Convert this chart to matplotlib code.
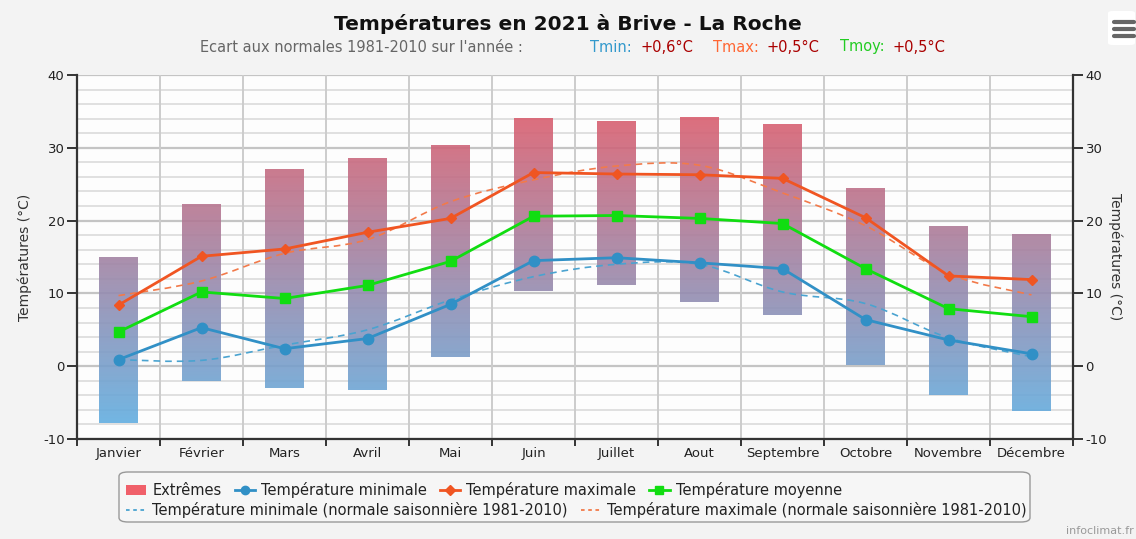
import numpy as np
import matplotlib
matplotlib.use("Agg")
import matplotlib.pyplot as plt
from matplotlib.colors import LinearSegmentedColormap
from matplotlib.patches import Patch, FancyBboxPatch, PathPatch
from matplotlib.lines import Line2D
from matplotlib.path import Path
from matplotlib import font_manager

# ---------------- data ----------------
months = ["Janvier", "Février", "Mars", "Avril", "Mai", "Juin", "Juillet",
          "Aout", "Septembre", "Octobre", "Novembre", "Décembre"]
extreme_max = [14.9, 22.2, 27.0, 28.5, 30.2, 34.0, 33.6, 34.1, 33.2, 24.5, 19.2, 18.0]
extreme_min = [-7.8, -2.1, -3.0, -3.3, 1.2, 10.3, 11.2, 8.8, 7.0, 0.2, -4.0, -6.2]
tmin = [0.9, 5.3, 2.4, 3.8, 8.5, 14.5, 14.9, 14.2, 13.4, 6.4, 3.6, 1.7]
tmax = [8.4, 15.1, 16.1, 18.4, 20.3, 26.6, 26.4, 26.3, 25.8, 20.4, 12.4, 11.9]
tmoy = [4.7, 10.2, 9.3, 11.1, 14.4, 20.6, 20.7, 20.3, 19.6, 13.4, 7.9, 6.8]
norm_min = [0.9, 0.8, 2.9, 5.0, 9.1, 12.3, 14.0, 14.0, 10.2, 8.6, 3.9, 1.3]
norm_max = [9.7, 11.7, 15.5, 17.4, 22.6, 25.6, 27.5, 27.6, 23.8, 19.3, 12.7, 9.8]
yticks = [-10, 0, 10, 20, 30, 40]

# ---------------- fonts ----------------
avail = {f.name for f in font_manager.fontManager.ttflist}
narrow = "Liberation Sans Narrow" if "Liberation Sans Narrow" in avail else "DejaVu Sans"
plt.rcParams['font.family'] = ['DejaVu Sans']
plt.rcParams['axes.unicode_minus'] = False

C_MIN = "#3190c6"
C_MAX = "#f05522"
C_MOY = "#11dd11"
C_NMIN = "#4aa3d0"
C_NMAX = "#f27a4a"

fig = plt.figure(figsize=(11.36, 5.39), dpi=100)
fig.patch.set_facecolor("#f3f3f3")
ax = fig.add_axes([77/1136, 1-439/539, (1073-77)/1136, (439-75)/539])
ax.set_facecolor("#fdfdfd")

x = np.arange(len(months))
ax.set_xlim(-0.5, len(months)-0.5)
ax.set_ylim(-10, 40)

# grid
for v in np.arange(-10, 41, 2):
    major = (v % 10 == 0)
    ax.axhline(v, color="#c4c4c4" if major else "#e0e0e0", lw=1.6 if major else 1.4, zorder=0.5)
for b in np.arange(0.5, len(months)-0.5, 1):
    ax.axvline(b, color="#cccccc", lw=1.4, zorder=0.5)

# gradient bars
cmap = LinearSegmentedColormap.from_list("ext", ["#5cb2e6", "#ea5460"])
w = 0.46
for i in range(len(months)):
    lo, hi = extreme_min[i], extreme_max[i]
    grad = np.linspace(lo, hi, 256).reshape(-1, 1)
    ax.imshow(grad, extent=(x[i]-w/2, x[i]+w/2, lo, hi), origin="lower",
              cmap=cmap, vmin=-10, vmax=40, aspect="auto", alpha=0.9,
              zorder=2, interpolation="bilinear")
ax.set_xlim(-0.5, len(months)-0.5)
ax.set_ylim(-10, 40)


def smooth_path(xs, ys, k=1/6):
    pts = np.column_stack([xs, ys]).astype(float)
    n = len(pts)
    verts = [pts[0]]
    codes = [Path.MOVETO]
    for i in range(n-1):
        p0 = pts[i-1] if i > 0 else pts[i]
        p1 = pts[i]
        p2 = pts[i+1]
        p3 = pts[i+2] if i+2 < n else pts[i+1]
        c1 = p1 + (p2 - p0) * k
        c2 = p2 - (p3 - p1) * k
        verts += [c1, c2, p2]
        codes += [Path.CURVE4]*3
    return Path(verts, codes)


ax.add_patch(PathPatch(smooth_path(x, norm_min), fill=False, ec=C_NMIN,
                       lw=1.2, ls=(0, (4, 3)), zorder=3))
ax.add_patch(PathPatch(smooth_path(x, norm_max), fill=False, ec=C_NMAX,
                       lw=1.2, ls=(0, (4, 3)), zorder=3))

ax.plot(x, tmin, color=C_MIN, lw=2, marker="o", ms=7.5, zorder=4)
ax.plot(x, tmax, color=C_MAX, lw=2, marker="D", ms=5.5, zorder=4)
ax.plot(x, tmoy, color=C_MOY, lw=2, marker="s", ms=7.5, zorder=4)

# axes styling
for s in ["top", "right"]:
    ax.spines[s].set_visible(False)
ax.spines["left"].set_color("#333333")
ax.spines["left"].set_linewidth(1.6)
ax.spines["bottom"].set_color("#333333")
ax.spines["bottom"].set_linewidth(1.6)
ax.set_yticks(yticks)
ax.tick_params(axis="y", length=7, width=1.4, color="#333333", labelsize=9.5,
               labelcolor="#222222", pad=2)
ax.set_xticks(x)
ax.set_xticklabels(months)
ax.set_xticks(np.arange(-0.5, len(months), 1), minor=True)
ax.tick_params(axis="x", which="major", length=0, labelsize=9.5,
               labelcolor="#222222", pad=6)
ax.tick_params(axis="x", which="minor", length=5, width=1.4, color="#333333")
ax.set_ylabel("Températures (°C)", fontsize=10, color="#333333", labelpad=8)

ax2 = ax.twinx()
ax2.set_ylim(-10, 40)
ax2.set_yticks(yticks)
for s in ["top", "left", "bottom"]:
    ax2.spines[s].set_visible(False)
ax2.spines["right"].set_color("#333333")
ax2.spines["right"].set_linewidth(1.6)
ax2.tick_params(axis="y", length=7, width=1.4, color="#333333", labelsize=9.5,
                labelcolor="#222222", pad=2)
ax2.set_ylabel("Températures (°C)", fontsize=10, color="#333333",
               rotation=-90, labelpad=11)

# titles
fig.text(0.5, 1-24/539, "Températures en 2021 à Brive - La Roche", ha="center",
         va="center", fontsize=14.5, fontweight="bold", family=[narrow, "DejaVu Sans"],
         color="#111111")
sub_y = 1-47/539
sf = [narrow, "DejaVu Sans"]
fig.text(200/1136, sub_y, "Ecart aux normales 1981-2010 sur l'année :", ha="left",
         va="center", fontsize=10.5, color="#666666", family=sf)
parts = [(590, "Tmin:", "#3399cc"), (640, "+0,6°C", "#aa0000"),
         (713, "Tmax:", "#ff6633"), (767, "+0,5°C", "#aa0000"),
         (840, "Tmoy:", "#22cc22"), (893, "+0,5°C", "#aa0000")]
for px, t, c in parts:
    fig.text(px/1136, sub_y, t, ha="left", va="center", fontsize=10.5, color=c,
             family=sf)

# legend
h1 = [Patch(fc="#f0606a", ec="none"),
      Line2D([], [], color=C_MIN, lw=2, marker="o", ms=6),
      Line2D([], [], color=C_MAX, lw=2, marker="D", ms=5),
      Line2D([], [], color=C_MOY, lw=2, marker="s", ms=6)]
l1 = ["Extrêmes", "Température minimale", "Température maximale", "Température moyenne"]
h2 = [Line2D([], [], color=C_NMIN, lw=1.3, ls=(0, (2, 2))),
      Line2D([], [], color=C_NMAX, lw=1.3, ls=(0, (2, 2)))]
l2 = ["Température minimale (normale saisonnière 1981-2010)",
      "Température maximale (normale saisonnière 1981-2010)"]
kw = dict(frameon=False, handlelength=1.4, handletextpad=0.4,
          columnspacing=0.9, borderpad=0, borderaxespad=0,
          prop={"family": sf, "size": 10.5})
leg1 = fig.legend(h1, l1, loc="center left", bbox_to_anchor=(126/1136, 1-490/539),
                  ncol=4, **kw)
leg2 = fig.legend(h2, l2, loc="center left", bbox_to_anchor=(126/1136, 1-510/539),
                  ncol=2, **kw)
for lg in (leg1, leg2):
    for t in lg.get_texts():
        t.set_color("#222222")
fig.patches.append(FancyBboxPatch((119/1136, 1-522/539), (1030-119)/1136, 50/539,
                                  boxstyle="round,pad=0,rounding_size=0.008",
                                  transform=fig.transFigure, fc="#f6f6f6",
                                  ec="#999999", lw=1.0, zorder=0))

# watermark + menu icon
fig.text(1134/1136, 1-531/539, "infoclimat.fr", ha="right", va="center",
         fontsize=8, color="#999999")
fig.patches.append(FancyBboxPatch((1108/1136, 1-45/539), 27/1136, 34/539,
                                  boxstyle="round,pad=0,rounding_size=0.004",
                                  transform=fig.transFigure, fc="#ffffff",
                                  ec="none", zorder=0))
for yy in (22, 29, 36):
    fig.lines.append(Line2D([1114/1136, 1134/1136], [1-yy/539, 1-yy/539],
                            transform=fig.transFigure, color="#666666", lw=3,
                            solid_capstyle="round"))

fig.savefig("out.png", dpi=100, facecolor=fig.get_facecolor())
